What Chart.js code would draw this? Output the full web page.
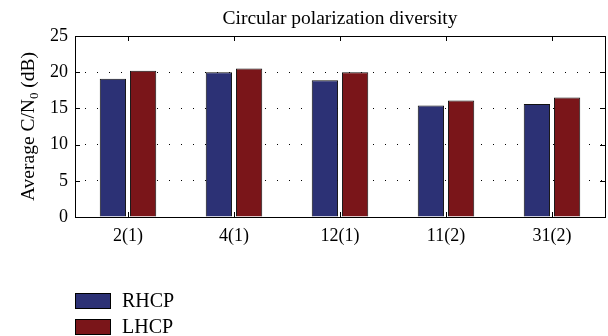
<!DOCTYPE html>
<html>
<head>
<meta charset="utf-8">
<script src="https://cdn.jsdelivr.net/npm/chart.js@4.4.1/dist/chart.umd.min.js"></script>
<style>
  html, body { margin: 0; padding: 0; background: #fff; }
  #wrap { width: 608px; height: 336px; position: relative; }
</style>
</head>
<body>
<div id="wrap"><canvas id="c" width="608" height="336"></canvas></div>
<script>
// Satellites (PRN and group) and their mean C/N0 per polarization
const categories = ['2(1)', '4(1)', '12(1)', '11(2)', '31(2)'];
const rhcpValues = [19.1, 20.0, 18.9, 15.4, 15.6];
const lhcpValues = [20.2, 20.5, 20.0, 16.1, 16.5];
const yTicks = [0, 5, 10, 15, 20, 25];

const SERIF = '"Liberation Serif", "DejaVu Serif", serif';
const BLUE = '#2c3175';
const RED = '#7a1519';

// Frame, inward ticks, title, y label and legend
const decorations = {
  id: 'decorations',
  afterDraw(chart) {
    const ctx = chart.ctx;
    const a = chart.chartArea;
    const xs = chart.scales.x, ys = chart.scales.y;
    ctx.save();
    ctx.strokeStyle = '#000';
    ctx.lineWidth = 1;
    ctx.strokeRect(Math.round(a.left) + 0.5, Math.round(a.top) + 0.5,
                   Math.round(a.right - a.left), Math.round(a.bottom - a.top));
    ctx.beginPath();
    categories.forEach((_, i) => {
      const x = Math.round(xs.getPixelForValue(i)) + 0.5;
      ctx.moveTo(x, a.top); ctx.lineTo(x, a.top + 5);
      ctx.moveTo(x, a.bottom); ctx.lineTo(x, a.bottom - 5);
    });
    yTicks.forEach(v => {
      const y = Math.round(ys.getPixelForValue(v)) + 0.5;
      ctx.moveTo(a.left, y); ctx.lineTo(a.left + 5, y);
      ctx.moveTo(a.right, y); ctx.lineTo(a.right - 5, y);
    });
    ctx.stroke();

    // title
    ctx.fillStyle = '#000';
    ctx.font = '19.5px ' + SERIF;
    ctx.textAlign = 'center';
    ctx.textBaseline = 'alphabetic';
    ctx.fillText('Circular polarization diversity', (a.left + a.right) / 2, 24);

    // y axis label with subscript
    ctx.save();
    ctx.translate(34, (a.top + a.bottom) / 2);
    ctx.rotate(-Math.PI / 2);
    const big = '19.5px ' + SERIF, small = '13px ' + SERIF;
    const p1 = 'Average C/N', p2 = '0', p3 = ' (dB)';
    ctx.font = big; const w1 = ctx.measureText(p1).width, w3 = ctx.measureText(p3).width;
    ctx.font = small; const w2 = ctx.measureText(p2).width;
    let x0 = -(w1 + w2 + w3) / 2;
    ctx.textAlign = 'left';
    ctx.font = big; ctx.fillText(p1, x0, 0);
    ctx.font = small; ctx.fillText(p2, x0 + w1, 4);
    ctx.font = big; ctx.fillText(p3, x0 + w1 + w2, 0);
    ctx.restore();

    // legend
    const items = chart.data.datasets;
    items.forEach((ds, i) => {
      const top = 293 + i * 26;
      ctx.fillStyle = ds.backgroundColor;
      ctx.fillRect(75.5, top + 0.5, 35, 15);
      ctx.strokeStyle = '#000';
      ctx.strokeRect(75.5, top + 0.5, 35, 15);
      ctx.fillStyle = '#000';
      ctx.font = '20px ' + SERIF;
      ctx.textAlign = 'left';
      ctx.textBaseline = 'middle';
      ctx.fillText(ds.label, 122, top + 8.5);
    });
    ctx.restore();
  }
};

new Chart(document.getElementById('c'), {
  type: 'bar',
  data: {
    labels: categories,
    datasets: [
      { label: 'RHCP', data: rhcpValues, backgroundColor: BLUE, borderColor: '#111', borderWidth: 1 },
      { label: 'LHCP', data: lhcpValues, backgroundColor: RED, borderColor: '#111', borderWidth: 1 }
    ]
  },
  options: {
    responsive: false,
    animation: false,
    devicePixelRatio: 1,
    layout: { padding: { top: 36, right: 3, bottom: 89, left: 0 } },
    plugins: { legend: { display: false }, title: { display: false }, tooltip: { enabled: false } },
    datasets: { bar: { categoryPercentage: 0.57, barPercentage: 0.87 } },
    scales: {
      x: {
        grid: { display: false, drawTicks: false },
        border: { display: false },
        ticks: { color: '#000', font: { family: SERIF, size: 18 }, padding: 8 },
        afterFit(s) { s.height = 30; }
      },
      y: {
        min: 0, max: 25,
        afterBuildTicks(s) { s.ticks = yTicks.map(v => ({ value: v })); },
        grid: {
          drawTicks: false,
          color: c => (c.tick && (c.tick.value === 0 || c.tick.value === 25)) ? 'rgba(0,0,0,0)' : '#000',
          lineWidth: 1
        },
        border: { display: false, dash: [1, 11], dashOffset: 2 },
        ticks: { color: '#000', font: { family: SERIF, size: 18 }, padding: 7 },
        afterFit(s) { s.width = 75; }
      }
    }
  },
  plugins: [decorations]
});
</script>
</body>
</html>
